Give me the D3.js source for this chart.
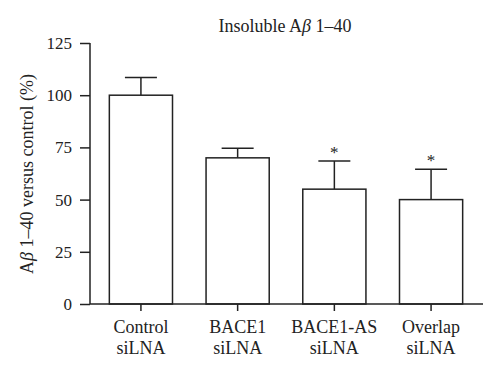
<!DOCTYPE html>
<html><head><meta charset="utf-8">
<script src="https://cdn.jsdelivr.net/npm/d3@7"></script>
<style>body{margin:0;background:#fff}svg{display:block}text{font-family:"Liberation Serif","DejaVu Serif",serif;fill:#222}</style>
</head><body>
<svg id="c" width="500" height="379"></svg>
<script>
const categories = [["Control","siLNA"],["BACE1","siLNA"],["BACE1-AS","siLNA"],["Overlap","siLNA"]];
const values = [100, 70, 55, 50];
const errors = [8.5, 4.6, 13.5, 14.5];
const significant = [false, false, true, true];
const yTicks = [0, 25, 50, 75, 100, 125];

const svg = d3.select("#c");
const x = d3.scaleBand().domain(d3.range(categories.length)).range([90, 482]).paddingInner(0.347).paddingOuter(0.2);
const y = d3.scaleLinear().domain([0,125]).range([304, 43]);
const ink = "#222";

// bars
const g = svg.append("g");
values.forEach((v,i)=>{
  const x0 = x(i), w = x.bandwidth(), cx = x0 + w/2;
  g.append("line").attr("x1",cx).attr("x2",cx).attr("y1",y(v)).attr("y2",y(v+errors[i])).attr("stroke",ink).attr("stroke-width",1.5);
  g.append("line").attr("x1",cx-16).attr("x2",cx+16).attr("y1",y(v+errors[i])).attr("y2",y(v+errors[i])).attr("stroke",ink).attr("stroke-width",1.5);
  g.append("rect").attr("x",x0).attr("y",y(v)).attr("width",w).attr("height",y(0)-y(v)).attr("fill","#fff").attr("stroke",ink).attr("stroke-width",1.5);
  if (significant[i]) g.append("text").attr("x",cx).attr("y",y(v+errors[i])-3).attr("text-anchor","middle").attr("font-size",17).text("*");
});

// y axis
const ya = svg.append("g").attr("transform","translate(90,0)").call(d3.axisLeft(y).tickValues(yTicks).tickSize(10).tickPadding(8));
ya.selectAll("path,line").attr("stroke",ink).attr("stroke-width",1.5);
ya.select(".domain").attr("d","M0,"+y(125)+"V"+y(0));
ya.selectAll("text").attr("font-size",17).attr("font-family","Liberation Serif, serif").attr("fill",ink);

// x axis
const xa = svg.append("g").attr("transform","translate(0,"+y(0)+")").call(d3.axisBottom(x).tickSize(7).tickFormat(""));
xa.selectAll("path,line").attr("stroke",ink).attr("stroke-width",1.5);
xa.select(".domain").attr("d","M90,0H483");
categories.forEach((c,i)=>{
  const cx = x(i)+x.bandwidth()/2;
  const t = svg.append("text").attr("x",cx).attr("text-anchor","middle").attr("font-size",18);
  t.append("tspan").attr("x",cx).attr("y",333).text(c[0]);
  t.append("tspan").attr("x",cx).attr("y",354).text(c[1]);
});

// title
const title = svg.append("text").attr("x",285).attr("y",32).attr("text-anchor","middle").attr("font-size",18);
title.append("tspan").text("Insoluble A");
title.append("tspan").attr("font-style","italic").text("β");
title.append("tspan").text(" 1–40");

// y label
const yl = svg.append("text").attr("transform","translate(33,174) rotate(-90)").attr("text-anchor","middle").attr("font-size",18);
yl.append("tspan").text("A");
yl.append("tspan").attr("font-style","italic").text("β");
yl.append("tspan").text(" 1–40 versus control (%)");
</script>
</body></html>
